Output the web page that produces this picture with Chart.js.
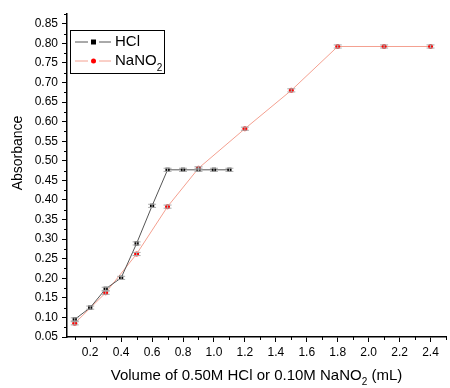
<!DOCTYPE html>
<html>
<head>
<meta charset="utf-8">
<script src="https://cdn.jsdelivr.net/npm/chart.js@4"></script>
<style>
  html, body { margin: 0; padding: 0; background: #fff; }
  #wrap { width: 450px; height: 388px; }
</style>
</head>
<body>
<div id="wrap"><canvas id="absChart"></canvas></div>
<script>
// data
var hclX = [0.1, 0.2, 0.3, 0.4, 0.5, 0.6, 0.7, 0.8, 0.9, 1.0, 1.1];
var hclY = [0.095, 0.125, 0.173, 0.201, 0.289, 0.385, 0.477, 0.477, 0.477, 0.477, 0.477];
var hclErr = [0.004, 0.004, 0.004, 0.004, 0.004, 0.004, 0.004, 0.004, 0.004, 0.004, 0.004];

var nanoX = [0.1, 0.3, 0.5, 0.7, 0.9, 1.2, 1.5, 1.8, 2.1, 2.4];
var nanoY = [0.085, 0.163, 0.262, 0.383, 0.481, 0.582, 0.680, 0.792, 0.792, 0.792];
var nanoErr = [0.004, 0.004, 0.004, 0.004, 0.004, 0.004, 0.004, 0.004, 0.004, 0.004];

var xTicks = [0.2, 0.4, 0.6, 0.8, 1.0, 1.2, 1.4, 1.6, 1.8, 2.0, 2.2, 2.4];
var yTicks = [0.05, 0.10, 0.15, 0.20, 0.25, 0.30, 0.35, 0.40, 0.45, 0.50, 0.55, 0.60, 0.65, 0.70, 0.75, 0.80, 0.85];
var xMinor = [0.1, 0.3, 0.5, 0.7, 0.9, 1.1, 1.3, 1.5, 1.7, 1.9, 2.1, 2.3, 2.5];
var yMinor = [0.075, 0.125, 0.175, 0.225, 0.275, 0.325, 0.375, 0.425, 0.475, 0.525, 0.575, 0.625, 0.675, 0.725, 0.775, 0.825, 0.875];

var FONT = 'Arial, "Liberation Sans", sans-serif';

function toPoints(xs, ys) {
    return xs.map(function (x, i) { return { x: x, y: ys[i] }; });
}

// error bars, minor ticks, legend box and axis titles
var extras = {
    id: 'extras',
    afterDatasetsDraw: function (chart) {
        var c = chart.ctx, xs = chart.scales.x, ys = chart.scales.y;
        var errs = [hclErr, nanoErr];
        c.save();
        c.strokeStyle = '#aaa';
        c.lineWidth = 1;
        chart.data.datasets.forEach(function (ds, d) {
            ds.data.forEach(function (p, i) {
                var px = xs.getPixelForValue(p.x);
                var top = ys.getPixelForValue(p.y + errs[d][i]);
                var bot = ys.getPixelForValue(p.y - errs[d][i]);
                c.beginPath();
                c.moveTo(px, top); c.lineTo(px, bot);
                c.moveTo(px - 4, top); c.lineTo(px + 4, top);
                c.moveTo(px - 4, bot); c.lineTo(px + 4, bot);
                c.stroke();
            });
        });
        c.restore();
    },
    afterDraw: function (chart) {
        var c = chart.ctx, xs = chart.scales.x, ys = chart.scales.y;
        var area = chart.chartArea;
        c.save();
        // minor ticks
        c.strokeStyle = '#000';
        c.lineWidth = 1;
        c.beginPath();
        xMinor.forEach(function (v) {
            var px = Math.round(xs.getPixelForValue(v)) + 0.5;
            c.moveTo(px, area.bottom); c.lineTo(px, area.bottom + 3);
        });
        yMinor.forEach(function (v) {
            var py = Math.round(ys.getPixelForValue(v)) + 0.5;
            c.moveTo(area.left, py); c.lineTo(area.left - 3, py);
        });
        c.stroke();

        // legend
        var lx = 70, ly = 30, lw = 94, lh = 43;
        c.strokeStyle = '#000';
        c.strokeRect(lx + 0.5, ly + 0.5, lw, lh);
        var rows = [
            { y: 42, line: '#555', dot: '#000', square: true, label: 'HCl' },
            { y: 61, line: '#f4a090', dot: '#f00', square: false, label: 'NaNO' }
        ];
        rows.forEach(function (r) {
            c.strokeStyle = r.line;
            c.beginPath();
            c.moveTo(75, r.y); c.lineTo(88, r.y);
            c.moveTo(99, r.y); c.lineTo(111, r.y);
            c.stroke();
            c.fillStyle = r.dot;
            if (r.square) {
                c.fillRect(91, r.y - 2.5, 5, 5);
            } else {
                c.beginPath(); c.arc(93.5, r.y, 2.5, 0, Math.PI * 2); c.fill();
            }
            c.fillStyle = '#000';
            c.font = '15px ' + FONT;
            c.textBaseline = 'middle';
            c.textAlign = 'left';
            c.fillText(r.label, 115, r.y);
            if (!r.square) {
                var w = c.measureText(r.label).width;
                c.font = '10px ' + FONT;
                c.fillText('2', 115 + w, r.y + 7);
            }
        });

        // x axis title with subscript
        var partA = 'Volume of 0.50M HCl or 0.10M NaNO', partB = '2', partC = ' (mL)';
        c.font = '15px ' + FONT;
        var wa = c.measureText(partA).width, wc = c.measureText(partC).width;
        c.font = '10px ' + FONT;
        var wb = c.measureText(partB).width;
        var total = wa + wb + wc;
        var sx = (area.left + area.right) / 2 - total / 2;
        var ty = 376;
        c.fillStyle = '#000';
        c.textBaseline = 'middle';
        c.textAlign = 'left';
        c.font = '15px ' + FONT;
        c.fillText(partA, sx, ty);
        c.font = '10px ' + FONT;
        c.fillText(partB, sx + wa, ty + 6);
        c.font = '15px ' + FONT;
        c.fillText(partC, sx + wa + wb, ty);

        // y axis title
        c.font = '14px ' + FONT;
        c.translate(18, 153);
        c.rotate(-Math.PI / 2);
        c.textAlign = 'center';
        c.fillText('Absorbance', 0, 0);
        c.restore();
    }
};

var ctx = document.getElementById('absChart').getContext('2d');

var absChart = new Chart(ctx, {
    type: 'line',
    data: {
        datasets: [{
            label: 'HCl',
            data: toPoints(hclX, hclY),
            borderColor: '#555',
            backgroundColor: '#000',
            borderWidth: 1,
            pointStyle: 'rect',
            pointRadius: 3,
            pointBorderWidth: 0,
            tension: 0
        }, {
            label: 'NaNO2',
            data: toPoints(nanoX, nanoY),
            borderColor: '#f4a090',
            backgroundColor: '#f00',
            borderWidth: 1,
            pointStyle: 'circle',
            pointRadius: 2.5,
            pointBorderWidth: 0,
            tension: 0
        }]
    },
    options: {
        responsive: true,
        maintainAspectRatio: false,
        animation: false,
        layout: { padding: { top: 14, right: 0, bottom: 0, left: 0 } },
        plugins: {
            legend: { display: false },
            tooltip: { enabled: false }
        },
        scales: {
            x: {
                type: 'linear',
                min: 0.05,
                max: 2.5,
                afterBuildTicks: function (scale) {
                    scale.ticks = xTicks.map(function (v) { return { value: v }; });
                },
                afterFit: function (scale) { scale.height = 51; },
                ticks: {
                    color: '#000',
                    font: { size: 12, family: FONT },
                    padding: 3,
                    maxRotation: 0,
                    callback: function (v) { return v.toFixed(1); }
                },
                grid: { drawOnChartArea: false, tickLength: 5, color: '#000', tickColor: '#000' },
                border: { display: true, color: '#000', width: 1.5 }
            },
            y: {
                min: 0.05,
                max: 0.875,
                afterBuildTicks: function (scale) {
                    scale.ticks = yTicks.map(function (v) { return { value: v }; });
                },
                afterFit: function (scale) { scale.width = 67; },
                ticks: {
                    color: '#000',
                    font: { size: 12, family: FONT },
                    padding: 4,
                    callback: function (v) { return v.toFixed(2); }
                },
                grid: { drawOnChartArea: false, tickLength: 5, color: '#000', tickColor: '#000' },
                border: { display: true, color: '#000', width: 1.5 }
            }
        }
    },
    plugins: [extras]
});
</script>
</body>
</html>
